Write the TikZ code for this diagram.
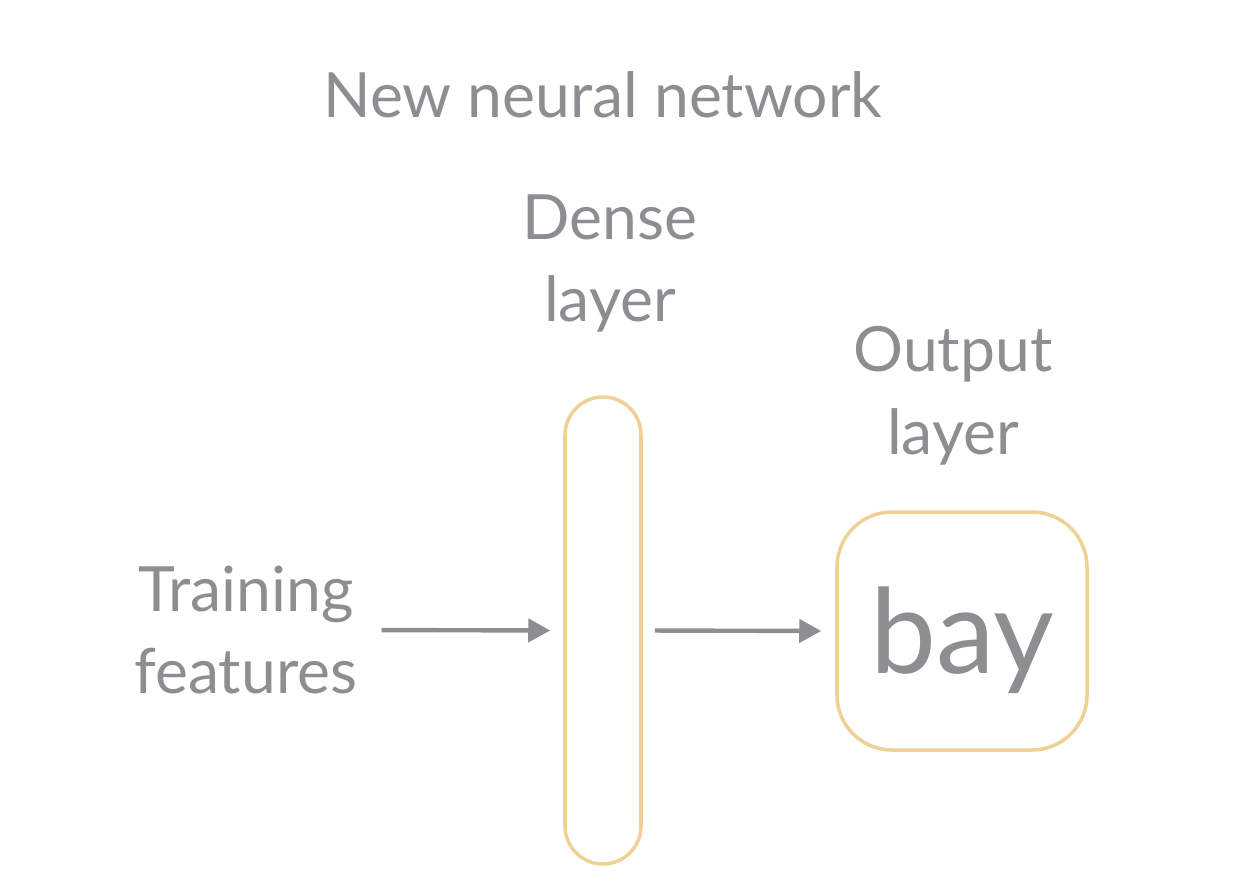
\documentclass[tikz,border=0pt]{standalone}
\usepackage{fontspec}
\setmainfont{Lato}
\usetikzlibrary{arrows.meta}
\definecolor{txtgray}{HTML}{8E8E92}
\definecolor{pillorange}{HTML}{F1D096}
\tikzset{>={Triangle[length=0.44cm,width=0.46cm]}}
\tikzset{lbl/.style={text=txtgray, align=center, font=\fontsize{35.5}{47}\selectfont}}
\tikzset{layerbox/.style={draw=pillorange, line width=2pt}}
\tikzset{flow/.style={->, draw=txtgray, fill=txtgray, line width=2.5pt}}

\begin{document}
\begin{tikzpicture}
\useasboundingbox (0,0) rectangle (24.84,-17.8);
\node[lbl] (title) at (12.06,-1.9) {New neural network};
\node[lbl] (densetxt) at (12.2,-5.27) {Dense\\layer};
\node[lbl] (outtxt) at (19.06,-7.92) {Output\\layer};
\node[lbl] (train) at (4.92,-12.6) {Training\\features};
\node[layerbox, rounded corners=0.76cm, minimum width=1.52cm, minimum height=9.34cm] (dense) at (12.06,-12.61) {};
\node[layerbox, rounded corners=1.1cm, minimum width=5cm, minimum height=4.76cm] (out) at (19.24,-12.62) {};
\node[text=txtgray, font=\fontsize{67}{74}\selectfont] (bay) at (19.24,-12.8) {bay};
\draw[flow, shorten <=0.36cm, shorten >=0.26cm] (train.east) -- (dense.west);
\draw[flow, shorten <=0.24cm, shorten >=0.28cm] (dense.east) -- (out.west);
\end{tikzpicture}
\end{document}
